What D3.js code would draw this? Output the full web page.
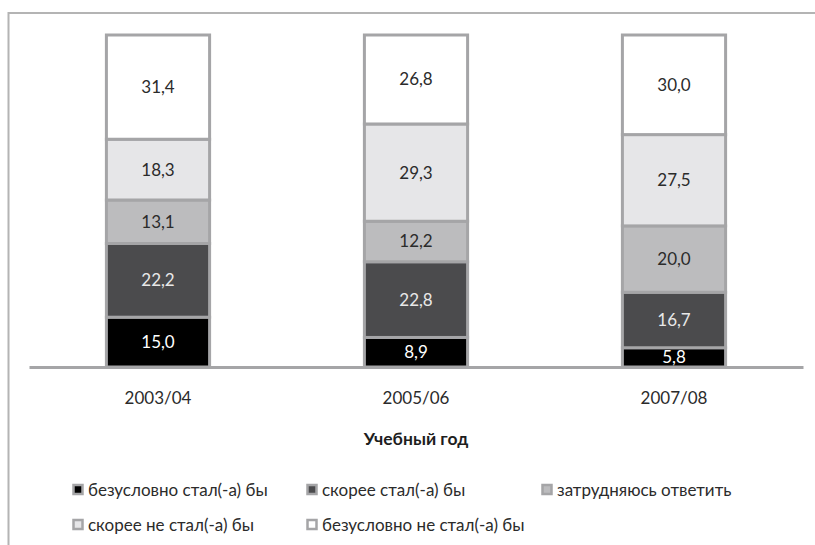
<!DOCTYPE html>
<html>
<head>
<meta charset="utf-8">
<script src="https://cdn.jsdelivr.net/npm/d3@7"></script>
<style>
  body { margin: 0; background: #fff; }
  svg text { font-family: Lato, "Open Sans", sans-serif; }
</style>
</head>
<body>
<div id="chart"></div>
<script>
var years = ["2003/04", "2005/06", "2007/08"];
var seriesNames = [
    "безусловно стал(-а) бы",
    "скорее стал(-а) бы",
    "затрудняюсь ответить",
    "скорее не стал(-а) бы",
    "безусловно не стал(-а) бы"
];
var definitely = [15.0, 8.9, 5.8];
var rather = [22.2, 22.8, 16.7];
var unsure = [13.1, 12.2, 20.0];
var ratherNot = [18.3, 29.3, 27.5];
var definitelyNot = [31.4, 26.8, 30.0];
var colors = ["#000000", "#4b4b4d", "#bcbcbe", "#e6e6e8", "#ffffff"];
var labelColors = ["#ffffff", "#e8e8e8", "#2b2b2b", "#2b2b2b", "#2b2b2b"];

var full_width = 815, full_height = 545;

var svg = d3.select("#chart")
    .append("svg")
    .attr("width", full_width)
    .attr("height", full_height);

// outer frame (cut off at right and bottom)
svg.append("path")
    .attr("d", "M8.5," + full_height + " V13 H" + full_width)
    .attr("fill", "none")
    .attr("stroke", "#b4b4b4")
    .attr("stroke-width", 2);

var x = d3.scaleBand()
    .domain(years)
    .range([29, 803])
    .paddingInner(0.6)
    .paddingOuter(0.3);

var y = d3.scaleLinear()
    .domain([0, 100])
    .range([367, 35]);

var rows = years.map(function(yr, i) {
    return {
        year: yr,
        s0: definitely[i], s1: rather[i], s2: unsure[i], s3: ratherNot[i], s4: definitelyNot[i]
    };
});
var keys = ["s0", "s1", "s2", "s3", "s4"];
var stacked = d3.stack().keys(keys)(rows);

var layer = svg.selectAll("g.layer")
    .data(stacked)
    .enter().append("g")
    .attr("class", "layer");

layer.selectAll("rect")
    .data(function(d) { return d.map(function(p) { p.key = d.key; return p; }); })
    .enter().append("rect")
    .attr("x", function(d) { return x(d.data.year); })
    .attr("y", function(d) { return y(d[1]); })
    .attr("width", x.bandwidth())
    .attr("height", function(d) { return y(d[0]) - y(d[1]); })
    .attr("fill", function(d) { return colors[keys.indexOf(d.key)]; })
    .attr("stroke", "#a5a5a7")
    .attr("stroke-width", 3);

layer.selectAll("text")
    .data(function(d) { return d; })
    .enter().append("text")
    .attr("x", function(d) { return x(d.data.year) + x.bandwidth() / 2; })
    .attr("y", function(d) { return (y(d[0]) + y(d[1])) / 2; })
    .attr("dy", "0.35em")
    .attr("text-anchor", "middle")
    .style("font-size", "17px")
    .attr("fill", function(d) { return labelColors[keys.indexOf(d.key)]; })
    .text(function(d) { return (d[1] - d[0]).toFixed(1).replace(".", ","); });

// X axis
var xAxis = svg.append("g")
    .attr("transform", "translate(0,367)")
    .call(d3.axisBottom(x).tickSize(0).tickPadding(25));
xAxis.select(".domain")
    .attr("stroke", "#a5a5a7")
    .attr("stroke-width", 3);
xAxis.selectAll("text")
    .style("font-size", "17px")
    .style("font-family", "Lato, sans-serif")
    .attr("fill", "#2b2b2b");

// X axis label
svg.append("text")
    .attr("x", 416)
    .attr("y", 445)
    .attr("text-anchor", "middle")
    .style("font-size", "17.5px")
    .style("font-weight", "bold")
    .attr("fill", "#1e1e1e")
    .text("Учебный год");

// Legend
var legendPos = [[72, 490], [306, 490], [541, 490], [72, 525], [306, 525]];
var legend = svg.selectAll("g.legend")
    .data(seriesNames)
    .enter().append("g")
    .attr("class", "legend")
    .attr("transform", function(d, i) { return "translate(" + legendPos[i][0] + "," + legendPos[i][1] + ")"; });

legend.append("rect")
    .attr("x", 1.5)
    .attr("y", -5)
    .attr("width", 9)
    .attr("height", 9)
    .attr("fill", function(d, i) { return colors[i]; })
    .attr("stroke", "#a5a5a7")
    .attr("stroke-width", 2.5);

legend.append("text")
    .attr("x", 16)
    .attr("y", 0)
    .attr("dy", "0.35em")
    .style("font-size", "17px")
    .attr("fill", "#2b2b2b")
    .text(function(d) { return d; });
</script>
</body>
</html>
